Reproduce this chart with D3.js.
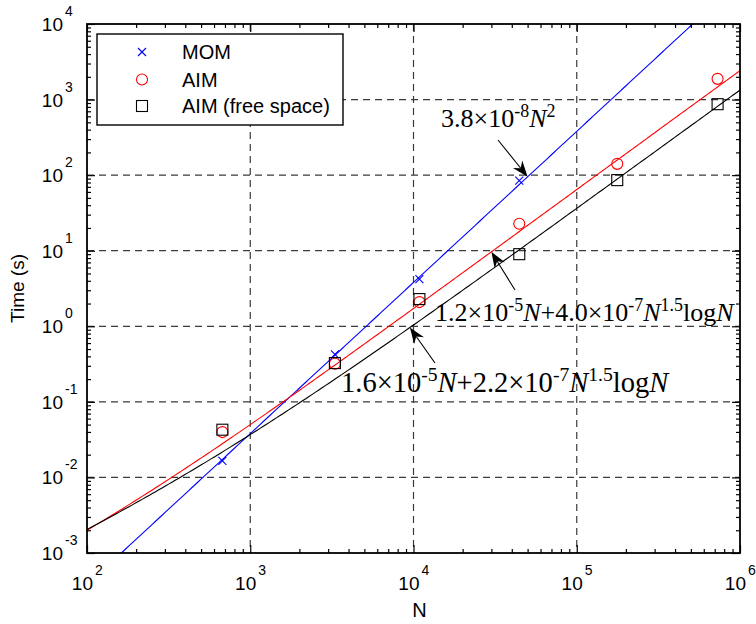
<!DOCTYPE html>
<html>
<head>
<meta charset="utf-8">
<script src="https://cdn.jsdelivr.net/npm/d3@7/dist/d3.min.js"></script>
<style>
  html, body { margin: 0; padding: 0; background: #fff; }
  svg { display: block; }
</style>
</head>
<body>
<svg id="chart" width="756" height="624"></svg>
<script>
// Measured solve times (s) versus number of unknowns N
const nMom = [675, 3300, 10870, 44450];
const timeMom = [0.0166, 0.424, 4.2, 84.9];
const nAim = [675, 3300, 10870, 44450, 177000, 729000];
const timeAim = [0.0398, 0.319, 2.09, 22.7, 141, 1880];
const timeAimFree = [0.0428, 0.326, 2.29, 9.0, 85.9, 869];

// Fitted complexity models: mantissa / power-of-ten pairs
const fitMom = { a: [3.8, -8], p: 2 };                       // a N^2
const fitAim = { a: [1.2, -5], b: [4.0, -7] };               // a N + b N^1.5 log N
const fitAimFree = { a: [1.6, -5], b: [2.2, -7] };

const seriesNames = ["MOM", "AIM", "AIM (free space)"];
const xDecades = [2, 3, 4, 5, 6];
const yDecades = [-3, -2, -1, 0, 1, 2, 3, 4];

const W = 756, H = 624;
const margin = { left: 87, right: 16, top: 24, bottom: 71 };
const x0 = margin.left, x1 = W - margin.right, y0 = margin.top, y1 = H - margin.bottom;

const x = d3.scaleLog().domain([1e2, 1e6]).range([x0, x1]);
const y = d3.scaleLog().domain([1e-3, 1e4]).range([y1, y0]);

const svg = d3.select("#chart");
svg.append("defs").append("clipPath").attr("id", "plotClip")
  .append("rect").attr("x", x0).attr("y", y0).attr("width", x1 - x0).attr("height", y1 - y0);

const val = m => m[0] * Math.pow(10, m[1]);
const momModel = n => val(fitMom.a) * Math.pow(n, fitMom.p);
const aimModel = f => n => val(f.a) * n + val(f.b) * Math.pow(n, 1.5) * Math.log10(n);

// Grid (major decades only, dashed)
const grid = svg.append("g").attr("stroke", "#3a3a3a").attr("stroke-width", 1.2)
  .attr("stroke-dasharray", "7,5").attr("fill", "none");
xDecades.slice(1, -1).forEach(d => {
  const px = x(Math.pow(10, d));
  grid.append("line").attr("x1", px).attr("x2", px).attr("y1", y0).attr("y2", y1);
});
yDecades.slice(1, -1).forEach(d => {
  const py = y(Math.pow(10, d));
  grid.append("line").attr("x1", x0).attr("x2", x1).attr("y1", py).attr("y2", py);
});

// Fitted curves
const curveN = d3.range(2, 6.0001, 0.02).map(e => Math.pow(10, e));
const line = d3.line().x(d => x(d[0])).y(d => y(d[1]));
const plot = svg.append("g").attr("clip-path", "url(#plotClip)");
[
  { f: momModel, c: "#0000ff" },
  { f: aimModel(fitAim), c: "#ff0000" },
  { f: aimModel(fitAimFree), c: "#000000" }
].forEach(s => {
  plot.append("path")
    .attr("d", line(curveN.map(n => [n, s.f(n)])))
    .attr("fill", "none").attr("stroke", s.c).attr("stroke-width", 1.1);
});

// Markers
function drawCross(g, cx, cy, r, c) {
  g.append("path").attr("d", `M${cx - r},${cy - r}L${cx + r},${cy + r}M${cx - r},${cy + r}L${cx + r},${cy - r}`)
    .attr("stroke", c).attr("stroke-width", 1.1).attr("fill", "none");
}
function drawCircle(g, cx, cy, r, c) {
  g.append("circle").attr("cx", cx).attr("cy", cy).attr("r", r)
    .attr("stroke", c).attr("stroke-width", 1.1).attr("fill", "none");
}
function drawSquare(g, cx, cy, h, c) {
  g.append("rect").attr("x", cx - h).attr("y", cy - h).attr("width", 2 * h).attr("height", 2 * h)
    .attr("stroke", c).attr("stroke-width", 1.1).attr("fill", "none");
}
const marks = svg.append("g");
nMom.forEach((n, i) => drawCross(marks, x(n), y(timeMom[i]), 4, "#0000ff"));
nAim.forEach((n, i) => drawCircle(marks, x(n), y(timeAim[i]), 5.5, "#ff0000"));
nAim.forEach((n, i) => drawSquare(marks, x(n), y(timeAimFree[i]), 5.5, "#000000"));

// Frame and inward ticks on all four sides
const axes = svg.append("g");
function tickSet(scale) {
  const all = scale.ticks();
  const isMajor = v => Math.abs(Math.log10(v) - Math.round(Math.log10(v))) < 1e-9;
  return { major: all.filter(isMajor), minor: all.filter(v => !isMajor(v)) };
}
const xt = tickSet(x), yt = tickSet(y);
function addAxis(gen, transform, values, len) {
  axes.append("g").attr("transform", transform)
    .call(gen.tickValues(values).tickSize(-len).tickSizeOuter(0).tickFormat(""))
    .call(g => g.select(".domain").remove())
    .call(g => g.selectAll(".tick line").attr("stroke", "#000").attr("stroke-width", 1.2));
}
[[xt.minor, 4], [xt.major, 8]].forEach(([v, l]) => {
  addAxis(d3.axisBottom(x), `translate(0,${y1})`, v, l);
  addAxis(d3.axisTop(x), `translate(0,${y0})`, v, l);
});
[[yt.minor, 4], [yt.major, 8]].forEach(([v, l]) => {
  addAxis(d3.axisLeft(y), `translate(${x0},0)`, v, l);
  addAxis(d3.axisRight(y), `translate(${x1},0)`, v, l);
});
axes.append("rect").attr("x", x0).attr("y", y0).attr("width", x1 - x0).attr("height", y1 - y0)
  .attr("fill", "none").attr("stroke", "#000").attr("stroke-width", 1.8);

// Tick labels: 10 with superscript exponent
const font = "Liberation Sans, Arial, Helvetica, sans-serif";
const labels = svg.append("g").attr("font-family", font).attr("fill", "#000");
xDecades.forEach(d => {
  const px = x(Math.pow(10, d));
  labels.append("text").attr("x", px + 6).attr("y", y1 + 37).attr("text-anchor", "end")
    .attr("font-size", 19).text("10");
  labels.append("text").attr("x", px + 8).attr("y", y1 + 22).attr("font-size", 14).text(d);
});
yDecades.forEach(d => {
  const py = y(Math.pow(10, d));
  labels.append("text").attr("x", x0 - 24).attr("y", py + 7).attr("text-anchor", "end")
    .attr("font-size", 19).text("10");
  labels.append("text").attr("x", x0 - 22).attr("y", py - 8).attr("font-size", 14).text(d);
});
labels.append("text").attr("x", (x0 + x1) / 2 + 6).attr("y", H - 7).attr("text-anchor", "middle")
  .attr("font-size", 20).text("N");
labels.append("text").attr("transform", `translate(24,${(y0 + y1) / 2}) rotate(-90)`)
  .attr("text-anchor", "middle").attr("font-size", 19).text("Time (s)");

// Legend
const lg = svg.append("g");
lg.append("rect").attr("x", 97).attr("y", 34).attr("width", 246).attr("height", 91)
  .attr("fill", "#fff").attr("stroke", "#000").attr("stroke-width", 1.4);
const rowY = [52, 79.5, 106];
drawCross(lg, 142, rowY[0], 4, "#0000ff");
drawCircle(lg, 142, rowY[1], 5.5, "#ff0000");
drawSquare(lg, 142, rowY[2], 5.5, "#000000");
seriesNames.forEach((s, i) => {
  lg.append("text").attr("x", 182).attr("y", rowY[i] + 7).attr("font-family", font)
    .attr("font-size", 20).text(s);
});

// Fit annotations with arrows
const serif = "Liberation Serif, Times New Roman, serif";
function richText(tx, ty, size, parts) {
  const t = svg.append("text").attr("x", tx).attr("y", ty).attr("font-family", serif)
    .attr("font-size", size).attr("fill", "#000");
  const supSize = size * 0.69, lift = size * 0.39;
  let raised = false;
  parts.forEach(p => {
    const s = t.append("tspan").text(p.t);
    if (p.sup && !raised) { s.attr("dy", -lift).attr("font-size", supSize); raised = true; }
    else if (p.sup) { s.attr("font-size", supSize); }
    else if (raised) { s.attr("dy", lift); raised = false; }
    if (p.it) s.attr("font-style", "italic");
  });
}
const mant = m => m[0].toFixed(1);
function linearTerms(f) {
  return [
    { t: `${mant(f.a)}×10` }, { t: `${f.a[1]}`, sup: true }, { t: "N", it: true },
    { t: `+${mant(f.b)}×10` }, { t: `${f.b[1]}`, sup: true }, { t: "N", it: true },
    { t: "1.5", sup: true }, { t: "log" }, { t: "N", it: true }
  ];
}
richText(441, 127, 26, [{ t: `${mant(fitMom.a)}×10` }, { t: `${fitMom.a[1]}`, sup: true },
  { t: "N", it: true }, { t: `${fitMom.p}`, sup: true }]);
richText(435, 321, 26, linearTerms(fitAim));
richText(341, 392, 28.5, linearTerms(fitAimFree));

function arrow(xa, ya, xb, yb) {
  const ang = Math.atan2(yb - ya, xb - xa);
  const L = 16, Wd = 6, notch = 11;
  const ux = Math.cos(ang), uy = Math.sin(ang), nx = -uy, ny = ux;
  svg.append("line").attr("x1", xa).attr("y1", ya).attr("x2", xb - ux * notch).attr("y2", yb - uy * notch)
    .attr("stroke", "#000").attr("stroke-width", 1.1);
  const p = [
    [xb, yb],
    [xb - ux * L + nx * Wd, yb - uy * L + ny * Wd],
    [xb - ux * notch, yb - uy * notch],
    [xb - ux * L - nx * Wd, yb - uy * L - ny * Wd]
  ];
  svg.append("path").attr("d", "M" + p.map(q => q.join(",")).join("L") + "Z").attr("fill", "#000");
}
arrow(498, 140, x(5.0e4), y(momModel(5.0e4)));
arrow(515, 290, x(3.0e4), y(aimModel(fitAim)(3.0e4)));
arrow(435, 363, x(9.5e3), y(aimModel(fitAimFree)(9.5e3)));
</script>
</body>
</html>
